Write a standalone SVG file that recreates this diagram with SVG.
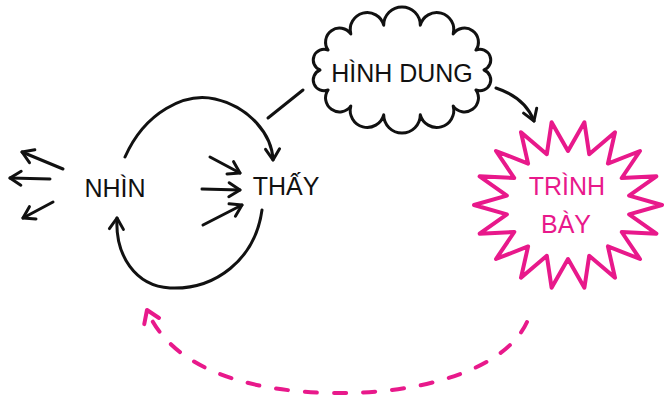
<svg xmlns="http://www.w3.org/2000/svg" width="664" height="398" viewBox="0 0 664 398">
<style>
.ln{fill:none;stroke:#111;stroke-width:3;stroke-linecap:round;stroke-linejoin:round}
.pk{fill:none;stroke:#e8198b;stroke-width:4;stroke-linecap:round;stroke-linejoin:round}
.t{font-family:"Liberation Sans",Arial,sans-serif;font-size:25px;text-anchor:middle;fill:#111}
.tp{fill:#e8198b}
</style>
<defs>
<marker id="ah" markerUnits="userSpaceOnUse" markerWidth="20" markerHeight="20" viewBox="-12 -10 20 20" refX="0" refY="0" orient="auto" overflow="visible">
<path d="M-11,-7 L0,0 L-11,7" fill="none" stroke="#111" stroke-width="3" stroke-linecap="round" stroke-linejoin="round"/>
</marker>
<marker id="ahp" markerUnits="userSpaceOnUse" markerWidth="20" markerHeight="20" viewBox="-12 -10 20 20" refX="0" refY="0" orient="auto" overflow="visible">
<path d="M-12,-8 L0,0 L-12,8" fill="none" stroke="#e8198b" stroke-width="4" stroke-linecap="round" stroke-linejoin="round"/>
</marker>
</defs>
<rect width="664" height="398" fill="#fff"/>
<g id="connectors">
<path class="ln" d="M63,169 L22,152" marker-end="url(#ah)"/>
<path class="ln" d="M50,179 L10,178" marker-end="url(#ah)"/>
<path class="ln" d="M53,202 L23,218" marker-end="url(#ah)"/>
<path class="ln" d="M210,157 L240,173" marker-end="url(#ah)"/>
<path class="ln" d="M202,189 L240,190" marker-end="url(#ah)"/>
<path class="ln" d="M203,225 L242,205" marker-end="url(#ah)"/>
<path class="ln" d="M125,157 C145,112 185,92 215,99 C250,107 272,135 273,160" marker-end="url(#ah)"/>
<path class="ln" d="M268,118 L303,90"/>
<path class="ln" d="M262,210 C255,260 215,290 170,288 C135,286 115,255 117,218" marker-end="url(#ah)"/>
<path class="ln" d="M496,88 C514,94 528,105 534,121" marker-end="url(#ah)"/>
<path class="pk" d="M527,322 C505,370 420,395 330,393 C240,391 170,365 147,310" stroke-dasharray="12 17" marker-end="url(#ahp)"/>
</g>
<g id="nhin"><text class="t" x="115" y="197">NHÌN</text></g>
<g id="thay"><text class="t" x="286" y="195">THẤY</text></g>
<g id="hinh-dung">
<path class="ln" fill="#fff" d="M484,70 A1,1 0 0 1 475.9,90 A1,1 0 0 1 453.2,106 A1,1 0 0 1 420.3,114.8 A1,1 0 0 1 383.7,114.8 A1,1 0 0 1 350.8,106 A1,1 0 0 1 328.1,90 A1,1 0 0 1 320,70 A1,1 0 0 1 328.1,50 A1,1 0 0 1 350.8,34 A1,1 0 0 1 383.7,25.2 A1,1 0 0 1 420.3,25.2 A1,1 0 0 1 453.2,34 A1,1 0 0 1 475.9,50 A1,1 0 0 1 484,70 Z"/>
<text class="t" x="402" y="82">HÌNH DUNG</text>
</g>
<g id="trinh-bay">
<path class="pk" stroke-width="3" d="M662,205 L629.1,214.4 L656.4,233.7 L621.7,232 L640,259 L607.9,246.4 L615,277.7 L589.2,255.8 L584.4,287.7 L568,259 L551.6,287.7 L546.8,255.8 L521,277.7 L528.1,246.4 L496,259 L514.3,232 L479.6,233.7 L506.9,214.4 L474,205 L506.9,195.6 L479.6,176.3 L514.3,178 L496,151 L528.1,163.6 L521,132.3 L546.8,154.2 L551.6,122.3 L568,151 L584.4,122.3 L589.2,154.2 L615,132.3 L607.9,163.6 L640,151 L621.7,178 L656.4,176.3 L629.1,195.6 Z"/>
<text class="t tp" x="567" y="195">TRÌNH</text>
<text class="t tp" x="566" y="233">BÀY</text>
</g>
</svg>
